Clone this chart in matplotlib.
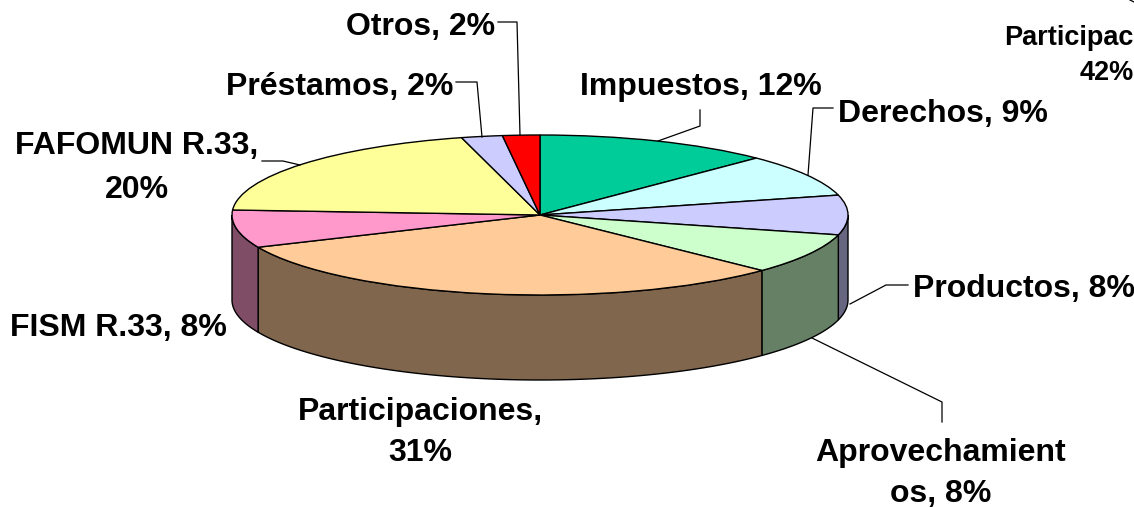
import matplotlib
matplotlib.use("Agg")
import matplotlib.pyplot as plt
import numpy as np

plt.rcParams['font.family'] = ['Liberation Sans', 'DejaVu Sans']

W, H = 1134, 507

# data (the labels show them rounded)
names = ['Impuestos', 'Derechos', 'Productos', 'Aprovechamientos', 'Participaciones',
         'FISM R.33', 'FAFOMUN R.33', 'Préstamos', 'Otros']
values = [12.4, 8.6, 8.0, 8.2, 31.2, 7.6, 19.9, 2.15, 1.95]
colors = ['#00CC99', '#CCFFFF', '#CCCCFF', '#CCFFCC', '#FFCC99',
          '#FF99CC', '#FFFF99', '#CCCCFF', '#FF0000']

# pie ellipse in pixels
cx, cy, rx, ry, depth = 540, 215, 308, 80, 85

fig = plt.figure(figsize=(W / 100, H / 100), dpi=100)
ax = fig.add_axes([(cx - rx) / W, 1 - (cy + ry) / H, 2 * rx / W, 2 * ry / H])
wedges, _ = ax.pie(values, colors=colors, startangle=90, counterclock=False, radius=1,
                   wedgeprops=dict(edgecolor='black', linewidth=1.0, clip_on=False, zorder=3))
ax.set_aspect('auto')
ax.set_xlim(-1, 1)
ax.set_ylim(-1, 1)

# side wall, only the front half of the ellipse shows
d = depth / ry
edges = np.cumsum([0] + values) / sum(values) * 2 * np.pi
for i, col in enumerate(colors):
    a0 = max(edges[i], np.pi / 2)
    a1 = min(edges[i + 1], 3 * np.pi / 2)
    if a1 <= a0:
        continue
    t = np.linspace(a0, a1, 80)
    xs = np.sin(t)
    ys = np.cos(t)
    px = np.r_[xs, xs[::-1]]
    py = np.r_[ys, ys[::-1] - d]
    ax.fill(px, py, facecolor=tuple(c * 0.5 for c in matplotlib.colors.to_rgb(col)),
            edgecolor='black', linewidth=1.0, clip_on=False, zorder=2)

# overlay in pixel coordinates for labels and leader lines
top = fig.add_axes([0, 0, 1, 1], zorder=5)
top.set_xlim(0, W)
top.set_ylim(H, 0)
top.axis('off')

leaders = [
    ([498, 517, 520], [22, 22, 135]),
    ([456, 477, 482], [82, 82, 137]),
    ([700, 700, 658], [110, 126, 141]),
    ([833, 813, 808], [108, 108, 175]),
    ([262, 283, 300], [161, 161, 165]),
    ([908, 886, 850], [285, 285, 304]),
    ([942, 942, 812], [422, 402, 338]),
    ([1130, 1134], [0, 2]),
]
for lx, ly in leaders:
    top.plot(lx, ly, color='black', linewidth=0.9, clip_on=False)

labels = [
    ('Otros, 2%', 495, 27, 'right'),
    ('Préstamos, 2%', 453, 87, 'right'),
    ('Impuestos, 12%', 580, 87, 'left'),
    ('Derechos, 9%', 838, 114, 'left'),
    ('FAFOMUN R.33,', 137, 146, 'center'),
    ('20%', 137, 190, 'center'),
    ('FISM R.33, 8%', 10, 328, 'left'),
    ('Participaciones,', 420, 412, 'center'),
    ('31%', 420, 453, 'center'),
    ('Productos, 8%', 913, 289, 'left'),
    ('Aprovechamient', 941, 453, 'center'),
    ('os, 8%', 941, 494, 'center'),
]
for s, x, y, ha in labels:
    top.text(x, y, s, ha=ha, va='center', fontsize=23, fontweight='bold', color='black')

# the reference is cut off at its right edge here
top.text(1134, 38, 'Participac', ha='right', va='center', fontsize=19.5, fontweight='bold')
top.text(1134, 73, '42%', ha='right', va='center', fontsize=19.5, fontweight='bold')

fig.savefig('out.png', dpi=100, facecolor='white')
